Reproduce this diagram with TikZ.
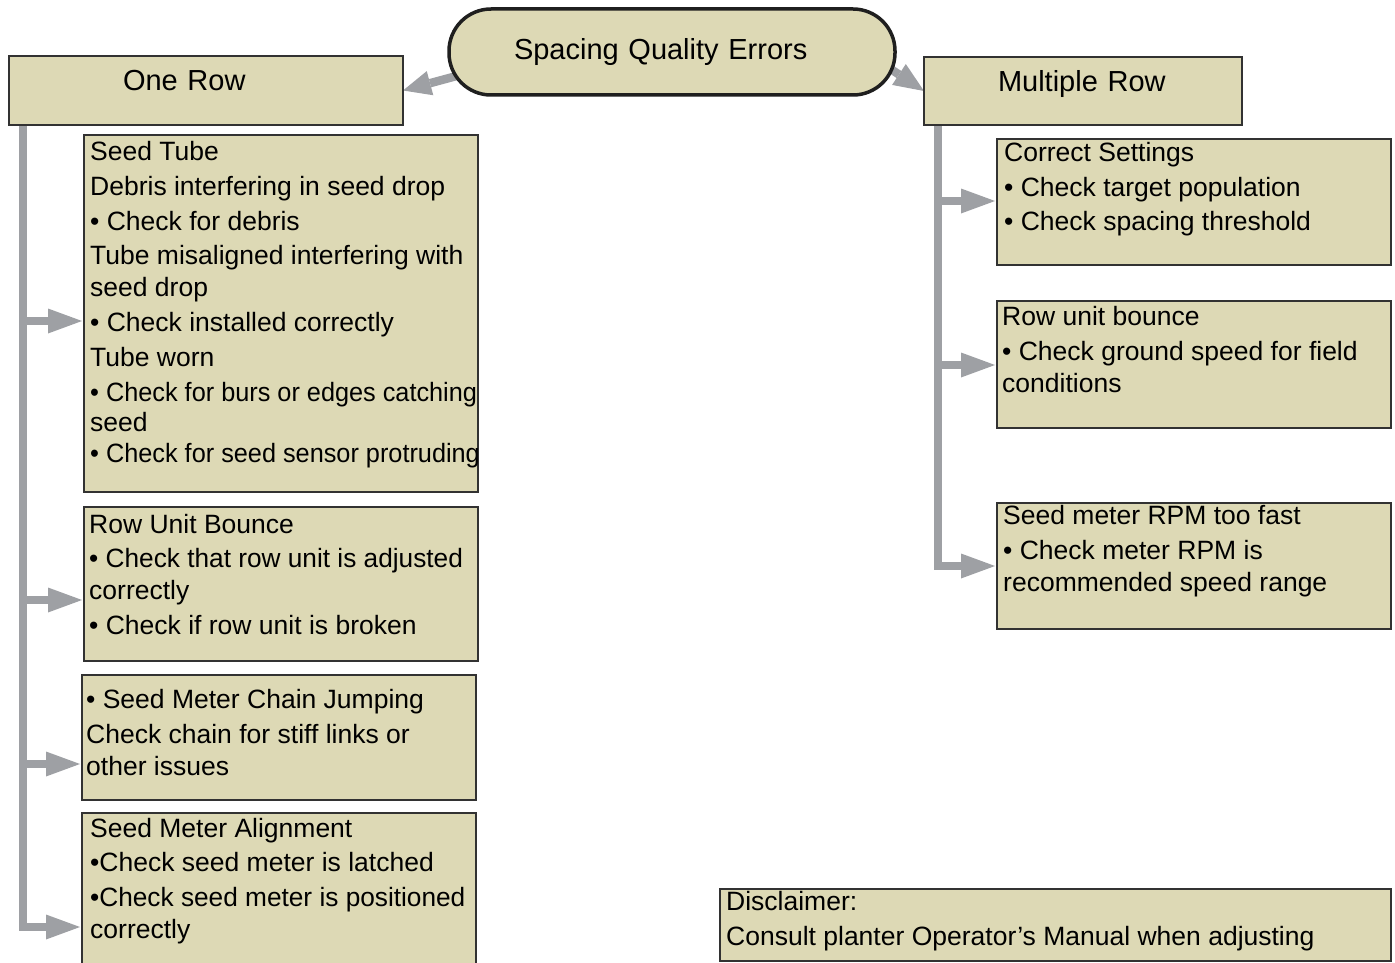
\documentclass[tikz,border=0pt]{standalone}
\usepackage{fontspec}
\usepackage{graphicx}
\setmainfont{Liberation Sans}
\usetikzlibrary{arrows.meta, backgrounds}

\definecolor{panelfill}{RGB}{221,217,181}
\definecolor{paneldraw}{RGB}{50,50,50}
\definecolor{linkgray}{RGB}{158,160,164}

% squeeze a line that the reference sets narrower
\newcommand{\narrowline}[1]{\scalebox{0.954}[1]{#1}}

\begin{document}
\begin{tikzpicture}[x=1pt, y=-1pt,
    panel/.style={draw=paneldraw, line width=2pt, fill=panelfill, inner sep=0pt, outer sep=0pt, anchor=north west},
    headtxt/.style={font=\fontsize{29}{34}\selectfont, align=left, text height=21pt, text depth=20pt},
    txt/.style={anchor=north west, inner sep=0pt, align=left, font=\fontsize{26.5}{32}\selectfont},
    link/.style={draw=linkgray, line width=8.5pt, -{Triangle[length=34pt, width=25pt, line width=0pt]}},
  ]
  \useasboundingbox (0,0) rectangle (1395,963);

  % ===== Title and the two columns =====
  \node[panel, headtxt, rounded corners=42pt, line width=3.5pt, draw=black!88,
        inner xsep=65pt, text width=316pt, minimum height=86pt, text depth=6pt] (title) at (449,9) {Spacing Quality Errors};
  \node[panel, headtxt, inner xsep=114pt, text width=166pt, minimum height=69pt] (onerow) at (9,56) {One Row};
  \node[panel, headtxt, inner xsep=74pt, text width=170pt, minimum height=68pt] (multirow) at (924,57) {Multiple Row};

  % ===== One Row: boxes =====
  \node[panel, minimum width=394pt, minimum height=357pt] (tube) at (84,135) {};
  \node[panel, minimum width=394pt, minimum height=154pt] (bounce) at (84,507) {};
  \node[panel, minimum width=394pt, minimum height=125pt] (chain) at (82,675) {};
  \node[panel, minimum width=394pt, minimum height=160pt] (meteralign) at (82,813) {};

  \node[txt] (tubetxt) at (90,138.1) {\strut Seed Tube\\[3pt] Debris interfering in seed drop\\[3pt]
    • Check for debris\\[2pt] Tube misaligned interfering with\\ seed drop\\[3pt]
    • Check installed correctly\\[3pt] Tube worn\\[3pt] \narrowline{• Check for burs or edges catching}\\[-2pt] seed\\[-1pt]
    \narrowline{• Check for seed sensor protruding}};
  \node[txt] (bouncetxt) at (89,511.1) {\strut Row Unit Bounce\\[2pt] \scalebox{0.99}[1]{• Check that row unit is adjusted}\\ correctly\\[3pt]
    • Check if row unit is broken};
  \node[txt] (chaintxt) at (86,686.1) {\strut • Seed Meter Chain Jumping\\[3pt] Check chain for stiff links or\\ other issues};
  \node[txt] (aligntxt) at (90,815.1) {\strut Seed Meter Alignment\\[2pt] •Check seed meter is latched\\[3pt]
    \scalebox{0.99}[1]{•Check seed meter is positioned}\\ correctly};

  % ===== Multiple Row: boxes =====
  \node[panel, minimum width=394pt, minimum height=126pt] (settings) at (997,139) {};
  \node[panel, minimum width=394pt, minimum height=127pt] (rowbounce) at (997,301) {};
  \node[panel, minimum width=394pt, minimum height=126pt] (meterrpm) at (997,503) {};

  \node[txt] (settingstxt) at (1004,139.1) {\strut Correct Settings\\[3pt] • Check target population\\[2pt] • Check spacing threshold};
  \node[txt] (rowbouncetxt) at (1002,303.1) {\strut Row unit bounce\\[3pt] • Check ground speed for field\\ conditions};
  \node[txt] (meterrpmtxt) at (1003,502.1) {\strut Seed meter RPM too fast\\[3pt] • Check meter RPM is\\ recommended speed range};

  % ===== Disclaimer =====
  \node[panel, minimum width=671pt, minimum height=72pt] (disclaimer) at (720,889) {};
  \node[txt] (disclaimertxt) at (726,888.1) {\strut Disclaimer:\\[3pt] Consult planter Operator’s Manual when adjusting};

  % branch points on the two trunks
  \coordinate (l1) at (23,321);
  \coordinate (l2) at (23,600);
  \coordinate (l3) at (23,764);
  \coordinate (l4) at (23,927);
  \coordinate (r1) at (938,201);
  \coordinate (r2) at (938,365);
  \coordinate (r3) at (938,566);

  % ===== Connectors =====
  \begin{scope}[on background layer]
    \draw[link, -{Triangle[length=28pt, width=25pt, line width=0pt]}] ([shift={(15,22)}]title.west) -- (onerow.east);
    \draw[link, -{Triangle[length=30pt, width=25pt, line width=0pt]}] ([shift={(-15,10)}]title.east) -- (multirow.west);

    \draw[link] (onerow.south -| l4) -- (l4) -- ([xshift=-2pt]meteralign.west |- l4);
    \foreach \pt/\tgt in {l1/tube, l2/bounce, l3/chain}
      \draw[link] (\pt) -- ([xshift=-2pt]\tgt.west |- \pt);

    \draw[link] (multirow.south -| r3) -- (r3) -- ([xshift=-2pt]meterrpm.west |- r3);
    \foreach \pt/\tgt in {r1/settings, r2/rowbounce}
      \draw[link] (\pt) -- ([xshift=-2pt]\tgt.west |- \pt);
  \end{scope}

\end{tikzpicture}
\end{document}
